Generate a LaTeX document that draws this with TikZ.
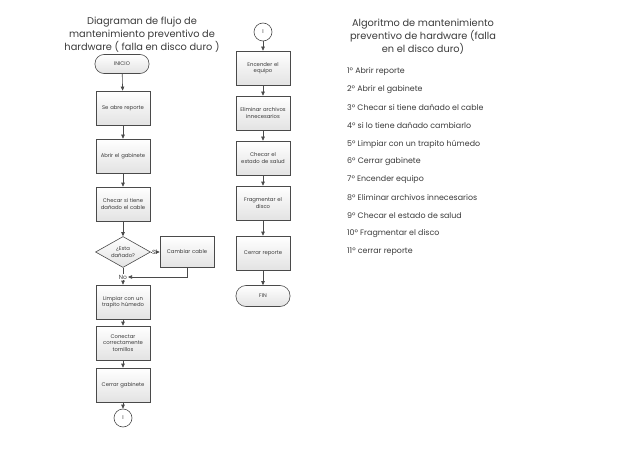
\documentclass[tikz,border=0pt]{standalone}
\usepackage{fontspec}
\setmainfont{Poppins}
\usetikzlibrary{shapes.geometric,arrows.meta}
\definecolor{edge}{HTML}{4A4A4A}
\definecolor{txt}{HTML}{3A3A3A}
\begin{document}
\begin{tikzpicture}[x=1pt,y=-1pt,
 proc/.style={draw=edge, line width=0.6pt, top color=white, bottom color=gray!22, minimum width=54pt, minimum height=34pt, text width=50pt, align=center, font=\fontsize{5.3}{6.4}\selectfont, text=txt, inner sep=1pt},
 term/.style={proc, rounded corners=9pt, minimum height=19pt},
 conn/.style={draw=edge, circle, line width=0.6pt, fill=white, minimum size=18pt, inner sep=0pt, font=\fontsize{5.5}{6.6}\selectfont, text=txt},
 dec/.style={diamond, draw=edge, line width=0.6pt, top color=white, bottom color=gray!22, aspect=1.8, minimum width=55pt, minimum height=31pt, inner sep=0pt, align=center, font=\fontsize{5.3}{6.4}\selectfont, text=txt},
 arr/.style={draw=edge, line width=0.6pt, -{Triangle[length=4pt,width=3.5pt]}},
 ln/.style={draw=edge, line width=0.6pt},
 lbl/.style={font=\fontsize{6}{7}\selectfont, text=txt, inner sep=0.8pt},
 title/.style={font=\fontsize{9.8}{13}\selectfont, text=txt, align=center},
 item/.style={font=\fontsize{7.9}{8}\selectfont, text=txt, anchor=west, inner sep=0pt}]
\useasboundingbox (0,0) rectangle (638,452);
% left title
\node[title] (t1) at (142,35) {Diagraman de flujo de\\mantenimiento preventivo de\\hardware ( falla en disco duro )};
% left column
\node[term] (inicio) at (122,64) {INICIO};
\node[proc] (s1) at (123,108) {Se abre reporte};
\node[proc] (s2) at (123,156) {Abrir el gabinete};
\node[proc] (s3) at (123,204) {Checar si tiene\\dañado el cable};
\node[dec] (d1) at (123,252) {¿Esta\\dañado?};
\node[proc, minimum width=54pt, minimum height=31pt] (cam) at (187,252) {Cambiar cable};
\node[lbl] (si) at (154.5,252) {Sí};
\node[lbl] (no) at (123,277) {No};
\node[proc] (s4) at (123,302) {Limpiar con un\\trapito húmedo};
\node[proc] (s5) at (123,343) {Conectar\\correctamente\\tornillos};
\node[proc] (s6) at (123,385) {Cerrar gabinete};
\node[conn] (c1) at (123,418) {I};
% right column
\node[conn] (c2) at (263,32) {I};
\node[proc] (r1) at (263,68) {Encender el\\equipo};
\node[proc] (r2) at (263,113) {Eliminar archivos\\innecesarios};
\node[proc] (r3) at (263,158) {Checar el\\estado de salud};
\node[proc] (r4) at (263,203) {Fragmentar el\\disco};
\node[proc] (r5) at (263,253) {Cerrar reporte};
\node[term, minimum height=21pt, rounded corners=10pt] (fin) at (263,296) {FIN};
% edges left
\draw[arr] (inicio) -- (s1);
\draw[arr] (s1) -- (s2);
\draw[arr] (s2) -- (s3);
\draw[arr] (s3) -- (d1);
\draw[ln] (d1.east) -- (si.west);
\draw[arr] (si.east) -- (cam.west);
\draw[ln] (d1.south) -- (no.north);
\draw[arr] (cam.south) |- (no.east);
\draw[arr] (no.south) -- (s4.north);
\draw[arr] (s4) -- (s5);
\draw[arr] (s5) -- (s6);
\draw[arr] (s6) -- (c1);
% edges right
\draw[arr] (c2) -- (r1);
\draw[arr] (r1) -- (r2);
\draw[arr] (r2) -- (r3);
\draw[arr] (r3) -- (r4);
\draw[arr] (r4) -- (r5);
\draw[arr] (r5) -- (fin);
% right text
\node[title] (t2) at (423,37) {Algoritmo de mantenimiento\\preventivo de hardware (falla\\en el disco duro)};
\node[item] (i1) at (347,72) {1º Abrir reporte};
\node[item] (i2) at (347,90) {2º Abrir el gabinete};
\node[item] (i3) at (347,108) {3º Checar si tiene dañado el cable};
\node[item] (i4) at (347,126) {4º si lo tiene dañado cambiarlo};
\node[item] (i5) at (347,144) {5º Limpiar con un trapito húmedo};
\node[item] (i6) at (347,162) {6º Cerrar gabinete};
\node[item] (i7) at (347,180) {7º Encender equipo};
\node[item] (i8) at (347,198) {8º Eliminar archivos innecesarios};
\node[item] (i9) at (347,216) {9º Checar el estado de salud};
\node[item] (i10) at (347,234) {10º Fragmentar el disco};
\node[item] (i11) at (347,252) {11º cerrar reporte};
\end{tikzpicture}
\end{document}
